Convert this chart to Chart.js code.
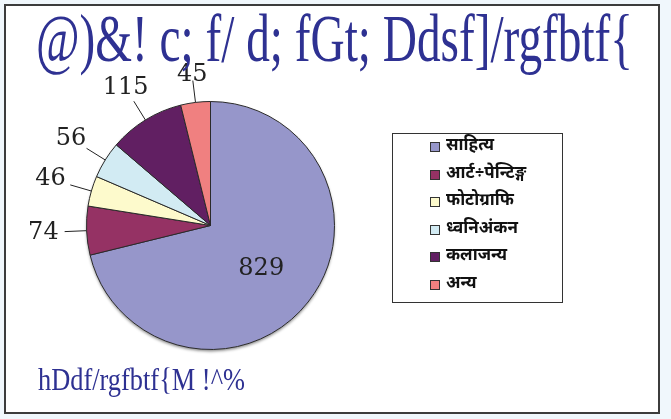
<!DOCTYPE html>
<html>
<head>
<meta charset="utf-8">
<script src="https://cdn.jsdelivr.net/npm/chart.js@4"></script>
<style>
  body { margin: 0; background: #f0f7fc; }
  #frame { position: absolute; left: 4px; top: 4px; width: 652px; height: 406px; border: 2px solid #3c3c3c; background: #fff; }
  #wrap { position: absolute; left: 0; top: 0; width: 671px; height: 419px; }
</style>
</head>
<body>
<div id="frame"></div>
<div id="wrap"><canvas id="pieChart" width="671" height="419"></canvas></div>
<script>
const categories = ["साहित्य", "आर्ट÷पेन्टिङ्ग", "फोटोग्राफि", "ध्वनिअंकन", "कलाजन्य", "अन्य"];
const values = [829, 74, 46, 56, 115, 45];
const colors = ["#9696ca", "#953264", "#fdfacc", "#d2ebf3", "#611f62", "#f08080"];
const titleText = "@)&! c; f/ d; fGt; Ddsf]/rgfbtf{";
const sourceText = "hDdf/rgfbtf{M !^%";

const devaFont = '"Noto Sans Devanagari", "Lohit Devanagari", "Noto Sans", sans-serif';

function drawFitted(ctx, text, font, left, baseline, width) {
  ctx.font = font;
  const w = ctx.measureText(text).width;
  ctx.save();
  ctx.translate(left, baseline);
  ctx.scale(width / w, 1);
  ctx.textAlign = "left";
  ctx.textBaseline = "alphabetic";
  ctx.fillText(text, 0, 0);
  ctx.restore();
}

// title, source line and boxed legend
const decorations = {
  id: "decorations",
  afterDraw(chart) {
    const ctx = chart.ctx;
    ctx.save();
    ctx.fillStyle = "#2e3192";
    drawFitted(ctx, titleText, '68px "Liberation Serif", serif', 36, 61, 597);
    drawFitted(ctx, sourceText, '32px "Liberation Serif", serif', 38, 390, 207);

    ctx.strokeStyle = "#333";
    ctx.lineWidth = 1;
    ctx.strokeRect(392.5, 133.5, 170, 169);
    ctx.font = "bold 17px " + devaFont;
    ctx.textAlign = "left";
    ctx.textBaseline = "middle";
    categories.forEach((label, i) => {
      const y = Math.round(146 + i * 27.6);
      ctx.fillStyle = colors[i];
      ctx.fillRect(430, y - 4, 10, 10);
      ctx.strokeRect(430.5, y - 3.5, 9, 9);
      ctx.fillStyle = "#111";
      ctx.fillText(label, 446, y + 1);
    });
    ctx.restore();
  }
};

// soft shadow under the whole pie
const pieShadow = {
  id: "pieShadow",
  beforeDatasetsDraw(chart) {
    const arc = chart.getDatasetMeta(0).data[0];
    if (!arc) return;
    const { x, y, outerRadius } = arc.getProps(["x", "y", "outerRadius"], true);
    const ctx = chart.ctx;
    ctx.save();
    ctx.shadowColor = "rgba(0,0,0,0.45)";
    ctx.shadowBlur = 3;
    ctx.shadowOffsetY = 2;
    ctx.fillStyle = "#fff";
    ctx.beginPath();
    ctx.arc(x, y, outerRadius, 0, Math.PI * 2);
    ctx.fill();
    ctx.restore();
  }
};

const pieLabels = {
  id: "pieLabels",
  afterDatasetsDraw(chart) {
    const ctx = chart.ctx;
    const meta = chart.getDatasetMeta(0);
    const total = values.reduce((a, b) => a + b, 0);
    ctx.save();
    ctx.font = '24px "DejaVu Serif", serif';
    ctx.fillStyle = "#222";
    ctx.strokeStyle = "#222";
    ctx.lineWidth = 1;
    ctx.textAlign = "center";
    ctx.textBaseline = "middle";
    meta.data.forEach((arc, i) => {
      const { x, y, startAngle, endAngle, outerRadius } = arc.getProps(["x", "y", "startAngle", "endAngle", "outerRadius"], true);
      const mid = (startAngle + endAngle) / 2;
      const cos = Math.cos(mid);
      const sin = Math.sin(mid);
      const text = String(values[i]);
      if (values[i] / total > 0.25) {
        ctx.fillText(text, x + cos * outerRadius * 0.52, y + sin * outerRadius * 0.52 + 3);
        return;
      }
      const hw = ctx.measureText(text).width / 2 + 6;
      const hh = 5;
      const ext = Math.sqrt((hw * cos) ** 2 + (hh * sin) ** 2);
      const gap = 22;
      const d = outerRadius + gap + ext;
      ctx.beginPath();
      ctx.moveTo(x + cos * outerRadius, y + sin * outerRadius);
      ctx.lineTo(x + cos * (outerRadius + gap), y + sin * (outerRadius + gap));
      ctx.stroke();
      ctx.fillText(text, x + cos * d, y + sin * d);
    });
    ctx.restore();
  }
};

new Chart(document.getElementById("pieChart"), {
  type: "pie",
  data: {
    labels: categories,
    datasets: [
      {
        data: values,
        backgroundColor: colors,
        borderColor: "#2a2a2a",
        borderWidth: 1,
        hoverOffset: 0
      }
    ]
  },
  options: {
    responsive: false,
    animation: false,
    layout: { padding: { left: 86, top: 101, right: 336, bottom: 69 } },
    plugins: {
      legend: { display: false },
      tooltip: { enabled: false }
    }
  },
  plugins: [pieShadow, pieLabels, decorations]
});
</script>
</body>
</html>
